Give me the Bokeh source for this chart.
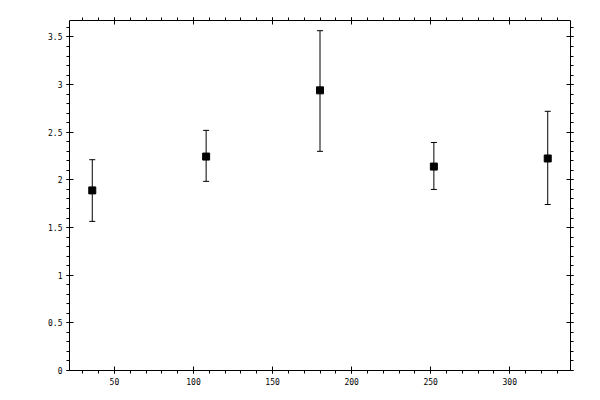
from bokeh.plotting import figure
from bokeh.models import (ColumnDataSource, Whisker, TeeHead, LinearAxis,
                          SingleIntervalTicker, CustomJSTickFormatter, Range1d)
from bokeh.embed import file_html
from bokeh.resources import INLINE

# data
x_vals = [36, 108, 180, 252, 324]
y_vals = [1.89, 2.245, 2.94, 2.14, 2.225]
y_lower = [1.565, 1.985, 2.30, 1.90, 1.742]
y_upper = [2.212, 2.52, 3.566, 2.393, 2.72]

src = ColumnDataSource(dict(x=x_vals, y=y_vals, lo=y_lower, hi=y_upper))

p = figure(width=592, height=392, output_backend="svg", toolbar_location=None,
           x_range=Range1d(21.6, 338.4), y_range=Range1d(0, 3.673),
           x_axis_type=None, y_axis_type=None,
           min_border_left=69, min_border_right=22, min_border_top=20,
           min_border_bottom=22)
p.xgrid.visible = False
p.ygrid.visible = False
p.outline_line_color = None
p.background_fill_color = "white"
p.border_fill_color = "white"

FONT = "DejaVu Sans Mono"

def style(ax, labels):
    ax.axis_line_color = "black"
    ax.axis_line_width = 1
    ax.major_tick_line_color = "black"
    ax.minor_tick_line_color = "black"
    ax.major_tick_in = 4
    ax.major_tick_out = 3
    ax.minor_tick_in = 0
    ax.minor_tick_out = 3
    ax.major_label_text_font = FONT
    ax.major_label_text_font_size = "8px"
    ax.major_label_text_color = "black"
    ax.major_label_standoff = 4
    if not labels:
        ax.formatter = CustomJSTickFormatter(code="return '';")
        ax.major_label_standoff = 0

fmt = CustomJSTickFormatter(code="return (Math.round(tick*10)/10).toString();")

xb = LinearAxis(ticker=SingleIntervalTicker(interval=50, num_minor_ticks=5), formatter=fmt)
style(xb, True)
p.add_layout(xb, "below")
xt = LinearAxis(ticker=SingleIntervalTicker(interval=50, num_minor_ticks=5))
style(xt, False)
p.add_layout(xt, "above")
yl = LinearAxis(ticker=SingleIntervalTicker(interval=0.5, num_minor_ticks=5), formatter=fmt)
style(yl, True)
p.add_layout(yl, "left")
yr = LinearAxis(ticker=SingleIntervalTicker(interval=0.5, num_minor_ticks=5))
style(yr, False)
p.add_layout(yr, "right")

w = Whisker(source=src, base="x", upper="hi", lower="lo", line_color="black", line_width=1,
            upper_head=TeeHead(size=6, line_color="black", line_width=1),
            lower_head=TeeHead(size=6, line_color="black", line_width=1))
p.add_layout(w)

p.scatter("x", "y", source=src, marker="square", size=7, fill_color="black", line_color="black")

open("out.html", "w").write(file_html(p, INLINE))
